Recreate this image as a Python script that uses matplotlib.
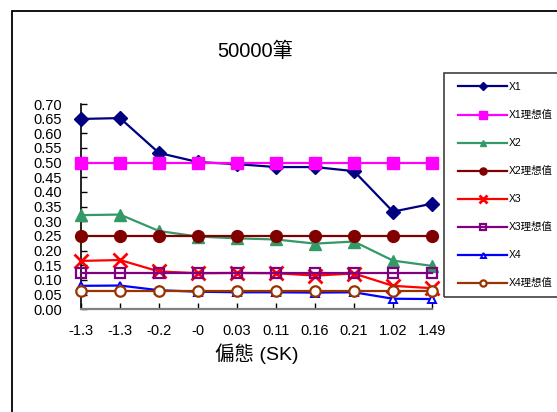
import matplotlib
matplotlib.use("Agg")
import matplotlib.pyplot as plt
from matplotlib.patches import Rectangle

plt.rcParams['font.family'] = ['Liberation Sans', 'Noto Sans CJK TC', 'DejaVu Sans']

categories = ["-1.3", "-1.3", "-0.2", "-0", "0.03", "0.11", "0.16", "0.21", "1.02", "1.49"]
x1 = [0.649, 0.652, 0.533, 0.502, 0.495, 0.485, 0.485, 0.471, 0.333, 0.360]
x1_ideal = [0.5] * 10
x2 = [0.321, 0.323, 0.267, 0.248, 0.242, 0.238, 0.224, 0.231, 0.166, 0.148]
x2_ideal = [0.25] * 10
x3 = [0.165, 0.168, 0.129, 0.123, 0.124, 0.123, 0.115, 0.122, 0.080, 0.072]
x3_ideal = [0.125] * 10
x4 = [0.080, 0.081, 0.065, 0.060, 0.058, 0.058, 0.057, 0.058, 0.036, 0.035]
x4_ideal = [0.0625] * 10
series_names = ["X1", "X1理想值", "X2", "X2理想值", "X3", "X3理想值", "X4", "X4理想值"]
title = "50000筆"
xlabel = "偏態 (SK)"

W, H = 557, 412
fig = plt.figure(figsize=(W / 100, H / 100), dpi=100)

def fx(px):
    return px / W

def fy(py):
    return 1 - py / H

# outer chart border
fig.patches.append(Rectangle((fx(11.5), fy(500)), fx(700), fy(11) - fy(500),
                             transform=fig.transFigure, fill=False,
                             edgecolor='black', linewidth=1.3))

ax = fig.add_axes([fx(81), fy(309.3), fx(432) - fx(81), fy(104) - fy(309.3)])
xs = list(range(len(categories)))

styles = [
    dict(color='#000080', marker='D', ms=7.5, mfc='#000080', mec='#000080'),
    dict(color='#FF00FF', marker='s', ms=8.5, mfc='#FF00FF', mec='#FF00FF'),
    dict(color='#339966', marker='^', ms=8, mfc='#339966', mec='#339966'),
    dict(color='#800000', marker='o', ms=8.5, mfc='#800000', mec='#800000'),
    dict(color='#FF0000', marker='x', ms=10, mew=2, mfc='#FF0000', mec='#FF0000'),
    dict(color='#800080', marker='s', ms=7, mew=1.6, mfc='none', mec='#800080'),
    dict(color='#0000FF', marker='^', ms=6, mew=1.4, mfc='white', mec='#0000FF'),
    dict(color='#993300', marker='o', ms=7.5, mew=1.6, mfc='white', mec='#993300'),
]
data = [x1, x1_ideal, x2, x2_ideal, x3, x3_ideal, x4, x4_ideal]
handles = []
for i, (vals, st, name) in enumerate(zip(data, styles, series_names)):
    ln, = ax.plot(xs, vals, linewidth=1.6, label=name, clip_on=False, zorder=3 + i, **st)
    handles.append(ln)

ax.set_xlim(0, 9)
ax.set_ylim(0, 0.70)
ax.set_yticks([i * 0.05 for i in range(15)])
ax.set_yticklabels([f"{i * 0.05:.2f}" for i in range(15)])
ax.set_xticks(xs)
ax.set_xticklabels(categories)
for s in ['top', 'right']:
    ax.spines[s].set_visible(False)
ax.spines['left'].set_color('black')
ax.spines['left'].set_linewidth(1.2)
ax.spines['bottom'].set_color('#808080')
ax.spines['bottom'].set_linewidth(1.6)
ax.tick_params(axis='y', direction='in', length=4, width=1, pad=13.5, labelsize=10.5)
ax.tick_params(axis='x', direction='in', length=4, width=1, color='black', pad=10.5, labelsize=10.5)
ax.patch.set_visible(False)

fig.text(fx(255), fy(51.5), title, ha='center', va='center', fontsize=14.5)
fig.text(fx(257), fy(354), xlabel, ha='center', va='center', fontsize=14)

# legend frame
fig.patches.append(Rectangle((fx(444), fy(297)), fx(200), fy(73) - fy(297),
                             transform=fig.transFigure, fill=False,
                             edgecolor='#404040', linewidth=1.2))
leg = fig.legend(handles=handles, loc='upper left',
                 bbox_to_anchor=(fx(455), fy(79)), frameon=False,
                 fontsize=7.5, handlelength=4.7, handletextpad=0.2,
                 labelspacing=1.73, markerscale=0.6, borderaxespad=0, borderpad=0.3)

fig.savefig("out.png", dpi=100)
